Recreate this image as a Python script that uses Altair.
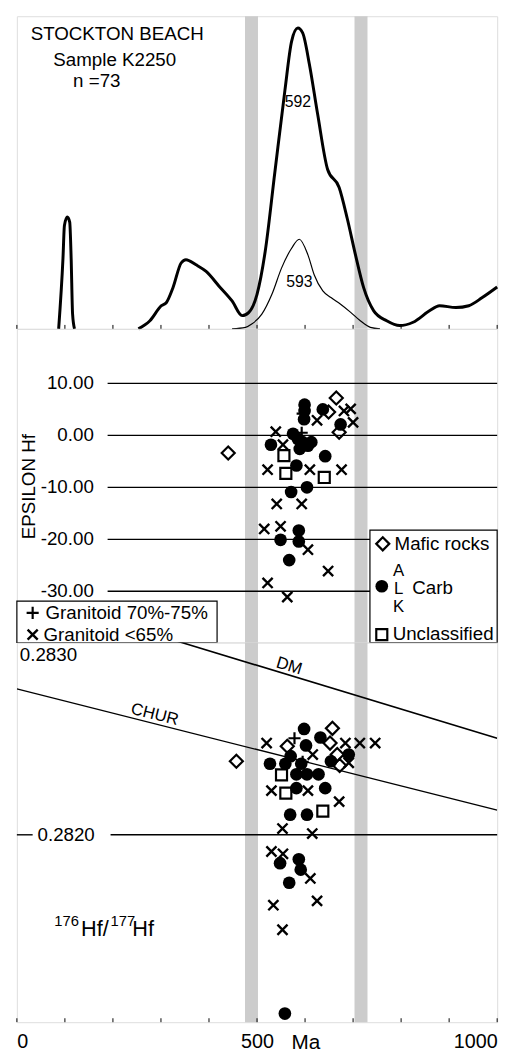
import altair as alt
import pandas as pd

FONT = "Liberation Sans"
W = 487
H1, H2, H3 = 317, 318, 385
FS = 19

# ---------------- data ----------------
band_start = [475, 703]
band_end = [502, 730]
x_ticks = [0, 100, 200, 300, 400, 500, 600, 700, 800, 900, 1000]
x_labels = [0, 500, 1000]

# probability density (relative units, peak = 100)
spike_age = [87, 96, 99, 105, 110, 113, 116, 120]
spike_val = [0, 23.5, 34.4, 37.2, 35.5, 23.5, 4.9, 0]
main_age = [253, 277, 301, 311, 325, 342, 352, 373, 394, 421, 448, 469, 483, 500, 517,
            537, 558, 572, 585, 595, 609, 626, 647, 671, 688, 705, 722, 743, 770, 797,
            825, 859, 880, 914, 941, 969, 1000]
main_val = [0, 2.7, 7.7, 8.7, 13.7, 21.9, 23.0, 21.3, 19.1, 14.2, 9.3, 4.4, 5.5, 11.5, 25.7,
            51.9, 79.2, 95.6, 100, 98.4, 88.0, 71.6, 53.0, 47.0, 36.6, 24.6, 13.7, 6.0, 2.7, 1.1,
            2.2, 6.0, 7.7, 7.1, 7.7, 10.4, 13.9]
thin_age = [448, 476, 489, 510, 531, 551, 572, 588, 606, 619, 637, 654, 674, 695, 715, 736, 756]
thin_val = [0, 0.5, 1.6, 4.9, 11.5, 20.2, 26.8, 29.8, 24.6, 18.0, 12.6, 10.4, 8.2, 5.5, 2.7, 0.5, 0]
peak_labels = ["592", "593"]
peak_label_age = [585, 588]
peak_label_val = [75.5, 15.4]

# epsilon Hf
eps_ticks = [10, 0, -10, -20, -30]
eps_tick_labels = ["10.00", "0.00", "-10.00", "-20.00", "-30.00"]
circ_eps_age = [599, 599, 598, 637, 674, 575, 529, 585, 595, 613, 589, 606, 642, 582, 571,
                604, 587, 549, 587, 567]
circ_eps = [5.9, 4.7, 3.1, 5.0, 2.1, 0.3, -1.8, -0.7, -1.3, -1.3, -2.6, -2.0, -4.0, -5.8, -10.9,
            -10.0, -18.3, -20.1, -20.4, -24.0]
cross_eps_age = [539, 554, 522, 610, 676, 541, 593, 515, 549, 606, 648, 522, 563, 625, 681, 695, 700]
cross_eps = [0.7, -1.8, -6.6, -6.6, -6.6, -13.2, -13.2, -18.0, -17.5, -22.0, -26.1, -28.4, -31.1,
             2.9, 4.7, 5.1, 2.5]
plus_eps_age = [595, 593]
plus_eps = [4.2, 0.5]
dia_eps_age = [665, 649, 671, 440]
dia_eps = [7.2, 4.5, 0.6, -3.4]
sq_eps_age = [556, 560, 640]
sq_eps = [-3.9, -7.3, -8.1]

# 176Hf/177Hf
hf_ticks = [0.2830, 0.2820]
hf_tick_labels = ["0.2830", "0.2820"]
circ_hf_age = [598, 632, 602, 691, 654, 527, 559, 570, 592, 582, 604, 628, 582, 642, 569,
               604, 587, 548, 591, 567, 558]
circ_hf = [0.282590, 0.282542, 0.282498, 0.282447, 0.282410, 0.282396, 0.282396, 0.282438,
           0.282396, 0.282337, 0.282337, 0.282337, 0.282260, 0.282260, 0.282112, 0.282112,
           0.281864, 0.281842, 0.281806, 0.281733, 0.281004]
cross_hf_age = [520, 684, 714, 746, 616, 691, 530, 606, 671, 553, 615, 530, 554, 611, 625, 534, 553]
cross_hf = [0.282511, 0.282511, 0.282511, 0.282511, 0.282447, 0.282401, 0.282246, 0.282246,
            0.282185, 0.282035, 0.282007, 0.281907, 0.281894, 0.281757, 0.281632, 0.281608,
            0.281471]
plus_hf_age = [578, 595]
plus_hf = [0.282538, 0.282407]
dia_hf_age = [457, 563, 657, 652, 672, 667]
dia_hf = [0.282410, 0.282493, 0.282593, 0.282511, 0.282386, 0.282447]
sq_hf_age = [551, 560, 637]
sq_hf = [0.282334, 0.282232, 0.282132]

dm_age = [0, 1000]
dm_val = [0.28335, 0.282538]
chur_age = [0, 1000]
chur_val = [0.282813, 0.282137]
ref_line_labels = ["DM", "CHUR"]
ref_label_age = [567, 287]
ref_label_val = [0.28294, 0.28267]
ref_label_angle = [17, 14]

title_lines = ["STOCKTON BEACH", "Sample K2250", "n =73"]
legend_right = ["Mafic rocks", "Carb", "Unclassified"]
legend_alk = ["A", "L", "K"]
legend_left = ["Granitoid 70%-75%", "Granitoid <65%"]

# ---------------- helpers ----------------
XS = alt.Scale(domain=[0, 1000], nice=False, zero=False)
Y1 = alt.Scale(domain=[0, 103.93], nice=False, zero=False)
Y2 = alt.Scale(domain=[-39.85, 20.49], nice=False, zero=False)
Y3 = alt.Scale(domain=[0.28095604, 0.28307143], nice=False, zero=False)

X_AXIS = alt.Axis(values=x_labels, format="d", ticks=False, tickSize=0, domain=False, grid=False,
                  labelFont=FONT, labelFontSize=20, labelColor="black", labelPadding=10,
                  labelFlush=True, title="Ma", titleFont=FONT, titleFontSize=21,
                  titleFontWeight="normal", titleColor="black", titleX=278, titleY=10,
                  titleAlign="left", titleBaseline="top")


def xenc(field="age", axis=None):
    return alt.X(f"{field}:Q", scale=XS, axis=axis, title=None)


def yenc(field, scale):
    return alt.Y(f"{field}:Q", scale=scale, axis=None, title=None)


def one():
    return pd.DataFrame({"k": [0]})


def text_val(txt, x, y, size=FS, align="left", angle=0):
    return alt.Chart(pd.DataFrame({"t": [txt]})).mark_text(
        font=FONT, fontSize=size, color="black", align=align, baseline="middle", angle=angle
    ).encode(text="t:N", x=alt.value(x), y=alt.value(y))


CROSS_X = "M-1,-1L1,1M-1,1L1,-1"
PLUS = "M-1,0L1,0M0,-1L0,1"
SYM = {
    "circle": dict(shape="circle", filled=True, size=165, strokeWidth=0),
    "diamond": dict(shape="diamond", filled=False, size=175, strokeWidth=2.2),
    "square": dict(shape="square", filled=False, size=125, strokeWidth=2.2),
    "x": dict(shape=CROSS_X, filled=False, size=105, strokeWidth=2.4),
    "plus": dict(shape=PLUS, filled=False, size=150, strokeWidth=2.2),
}


def pts(ages, vals, kind, scale, axis=None):
    df = pd.DataFrame({"age": ages, "v": vals})
    return alt.Chart(df).mark_point(color="black", opacity=1, **SYM[kind]).encode(
        x=xenc("age", axis), y=yenc("v", scale))


def legend_sym(kind, x, y):
    return alt.Chart(one()).mark_point(color="black", opacity=1, **SYM[kind]).encode(
        x=alt.value(x), y=alt.value(y))


def bands(h, axis=None):
    df = pd.DataFrame({"age": band_start, "age2": band_end})
    return alt.Chart(df).mark_rect(color="#cccccc").encode(
        x=xenc("age", axis), x2="age2:Q", y=alt.value(0), y2=alt.value(h))


def inner_ticks(h, axis=None):
    df = pd.DataFrame({"age": x_ticks})
    return alt.Chart(df).mark_rule(color="black", strokeWidth=1).encode(
        x=xenc("age", axis), y=alt.value(h), y2=alt.value(h - 4))


# ---------------- top panel ----------------
def curve(ages, vals, sw):
    df = pd.DataFrame({"age": ages, "v": vals})
    return alt.Chart(df).mark_line(color="black", strokeWidth=sw, interpolate="monotone").encode(
        x=xenc("age"), y=yenc("v", Y1), order="age:Q")


peak_df = pd.DataFrame({"age": peak_label_age, "v": peak_label_val, "t": peak_labels})
peak_txt = alt.Chart(peak_df).mark_text(font=FONT, fontSize=16, color="black",
                                        align="center", baseline="middle").encode(
    x=xenc("age"), y=yenc("v", Y1), text="t:N")

top = alt.layer(
    bands(H1),
    inner_ticks(H1),
    curve(spike_age, spike_val, 3),
    curve(main_age, main_val, 3),
    curve(thin_age, thin_val, 1.2),
    peak_txt,
    text_val(title_lines[0], 14, 18),
    text_val(title_lines[1], 37, 44),
    text_val(title_lines[2], 57, 66),
).properties(width=W, height=H1)

# ---------------- middle panel ----------------
eps_df = pd.DataFrame({"v": eps_ticks, "t": eps_tick_labels})
eps_grid = alt.Chart(eps_df).mark_rule(color="black", strokeWidth=1.4).encode(
    y=yenc("v", Y2), x=alt.value(92), x2=alt.value(W))
eps_lab = alt.Chart(eps_df).mark_text(font=FONT, fontSize=FS, color="black", align="right",
                                      baseline="middle").encode(
    y=yenc("v", Y2), x=alt.value(78), text="t:N")
eps_title = text_val("EPSILON Hf", 12, 160, size=FS, align="center", angle=270)


def box(x1, x2, y1, y2):
    return alt.Chart(one()).mark_rect(fill="white", stroke="black", strokeWidth=1.2).encode(
        x=alt.value(x1), x2=alt.value(x2), y=alt.value(y1), y2=alt.value(y2))


mid = alt.layer(
    bands(H2),
    eps_grid,
    eps_lab,
    eps_title,
    pts(sq_eps_age, sq_eps, "square", Y2),
    pts(dia_eps_age, dia_eps, "diamond", Y2),
    pts(cross_eps_age, cross_eps, "x", Y2),
    pts(plus_eps_age, plus_eps, "plus", Y2),
    pts(circ_eps_age, circ_eps, "circle", Y2),
    box(358, W, 204, H2),
    legend_sym("diamond", 371, 218),
    text_val(legend_right[0], 383, 218),
    legend_sym("circle", 370, 261),
    text_val(legend_alk[0], 387, 246, size=17, align="center"),
    text_val(legend_alk[1], 387, 264, size=17, align="center"),
    text_val(legend_alk[2], 387, 282, size=17, align="center"),
    text_val(legend_right[1], 401, 263),
    legend_sym("square", 370, 310),
    text_val(legend_right[2], 381, 309),
    box(0, 203, 276, H2),
    legend_sym("plus", 16, 288),
    text_val(legend_left[0], 29, 288),
    legend_sym("x", 16, 310),
    text_val(legend_left[1], 27, 310),
).properties(width=W, height=H2)

# ---------------- bottom panel ----------------
def ref_line(ages, vals, sw):
    df = pd.DataFrame({"age": ages, "v": vals})
    return alt.Chart(df).mark_line(color="black", strokeWidth=sw, clip=True).encode(
        x=xenc("age", X_AXIS), y=yenc("v", Y3))


hf_df = pd.DataFrame({"v": [hf_ticks[1]]})
hf_rule_a = alt.Chart(hf_df).mark_rule(color="black", strokeWidth=1.4).encode(
    y=yenc("v", Y3), x=alt.value(0), x2=alt.value(16))
hf_rule_b = alt.Chart(hf_df).mark_rule(color="black", strokeWidth=1.4).encode(
    y=yenc("v", Y3), x=alt.value(95), x2=alt.value(W))
hf_lab_top = alt.Chart(pd.DataFrame({"v": [hf_ticks[0]], "t": [hf_tick_labels[0]]})).mark_text(
    font=FONT, fontSize=FS, color="black", align="left", baseline="middle").encode(
    y=yenc("v", Y3), x=alt.value(3), text="t:N")
hf_lab_mid = alt.Chart(pd.DataFrame({"v": [hf_ticks[1]], "t": [hf_tick_labels[1]]})).mark_text(
    font=FONT, fontSize=FS, color="black", align="right", baseline="middle").encode(
    y=yenc("v", Y3), x=alt.value(79), text="t:N")

ref_lab_layers = []
for lab, a, v, ang in zip(ref_line_labels, ref_label_age, ref_label_val, ref_label_angle):
    ref_lab_layers.append(
        alt.Chart(pd.DataFrame({"age": [a], "v": [v], "t": [lab]})).mark_text(
            font=FONT, fontSize=17, color="black", align="center", baseline="middle",
            angle=ang).encode(x=xenc("age", X_AXIS), y=yenc("v", Y3), text="t:N"))

bot = alt.layer(
    bands(H3, X_AXIS),
    inner_ticks(H3, X_AXIS),
    hf_rule_a,
    hf_rule_b,
    hf_lab_top,
    hf_lab_mid,
    ref_line(dm_age, dm_val, 1.6),
    ref_line(chur_age, chur_val, 1.3),
    *ref_lab_layers,
    pts(sq_hf_age, sq_hf, "square", Y3, X_AXIS),
    pts(dia_hf_age, dia_hf, "diamond", Y3, X_AXIS),
    pts(cross_hf_age, cross_hf, "x", Y3, X_AXIS),
    pts(plus_hf_age, plus_hf, "plus", Y3, X_AXIS),
    pts(circ_hf_age, circ_hf, "circle", Y3, X_AXIS),
    text_val("176", 38, 282, size=15),
    text_val("Hf/", 65, 291, size=22),
    text_val("177", 95, 282, size=15),
    text_val("Hf", 117, 291, size=22),
).properties(width=W, height=H3)

chart = alt.vconcat(top, mid, bot, spacing=0, bounds="flush").resolve_scale(
    x="shared", y="independent"
).properties(
    padding={"left": 7, "top": 0, "right": 5, "bottom": 0}
).configure_view(
    stroke="black", strokeWidth=1
).configure(background="white")

chart.save("out.html", embed_options={"renderer": "svg", "actions": False})
